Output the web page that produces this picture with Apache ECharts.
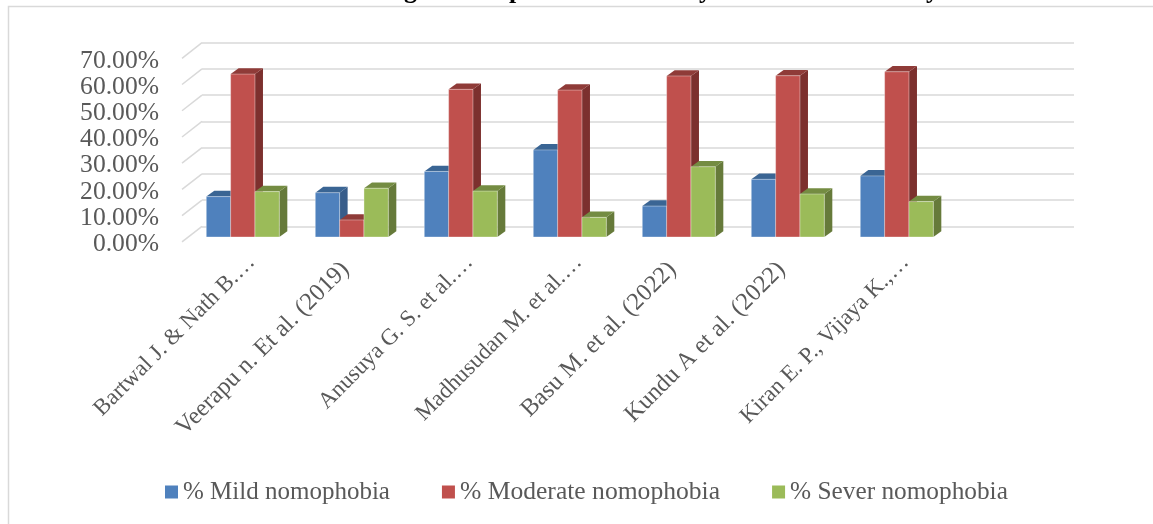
<!DOCTYPE html>
<html><head><meta charset="utf-8">
<style>html,body{margin:0;padding:0;background:#fff}#c{width:1153px;height:524px}</style>
<script src="https://cdn.jsdelivr.net/npm/echarts@6/dist/echarts.min.js"></script></head>
<body><div id="c"></div>
<script>
const categories = ["Bartwal J. & Nath B. (2019)","Veerapu n. Et al. (2019)","Anusuya G. S. et al. (2020)","Madhusudan M. et al. (2021)","Basu M. et al. (2022)","Kundu A et al. (2022)","Kiran E. P., Vijaya K., (2022)",""];
const shownLabels = ["Bartwal J. & Nath B.…","Veerapu n. Et al. (2019)","Anusuya G. S. et al.…","Madhusudan M. et al.…","Basu M. et al. (2022)","Kundu A et al. (2022)","Kiran E. P., Vijaya K.,…",""];
const mild = [15.4,16.9,25.0,33.2,11.8,22.0,23.3];
const moderate = [62.1,6.5,56.3,56.0,61.4,61.5,63.0];
const severe = [17.3,18.6,17.5,7.5,26.8,16.4,13.5];
const ticks = [0,10,20,30,40,50,60,70];
const titleGlyphs = [["g",404],["p",509],["y",699],["y",926]];

const DX=20, DY=15.6, BAR_DX=6.3, BAR_DY=4.9, SIDE_X=8, SIDE_Y=5.8, GROUP=0.67;
const FONT='"Liberation Serif"', GREY='#595959';

function barSeries(name,data,idx,front,side,top){
  return {name,type:'custom',xAxisIndex:0,yAxisIndex:0,coordinateSystem:'cartesian2d',z:3+idx,
    itemStyle:{color:front},
    encode:{x:0,y:1},
    data:data.map((v,i)=>[i,v]),
    renderItem(params,api){
      const base=api.coord([api.value(0),0]), t=api.coord([api.value(0),api.value(1)]);
      const band=api.size([1,0])[0], w=band*GROUP/3;
      const x=base[0]-band*GROUP/2+idx*w+BAR_DX, y0=base[1]-BAR_DY, y1=t[1]-BAR_DY;
      const edge='rgba(255,255,255,0.35)';
      return {type:'group',children:[
        {type:'polygon',shape:{points:[[x+w,y0],[x+w+SIDE_X,y0-SIDE_Y],[x+w+SIDE_X,y1-SIDE_Y],[x+w,y1]]},style:{fill:side}},
        {type:'polygon',shape:{points:[[x,y1],[x+SIDE_X,y1-SIDE_Y],[x+w+SIDE_X,y1-SIDE_Y],[x+w,y1]]},style:{fill:top}},
        {type:'rect',shape:{x,y:y1,width:w,height:y0-y1},style:{fill:front,stroke:edge,lineWidth:1}}
      ]};
    }};
}
const chart=echarts.init(document.getElementById('c'),null,{renderer:'canvas'});
chart.setOption({
  animation:false,
  textStyle:{fontFamily:FONT},
  graphic:[
    {type:'rect',silent:true,z:0,shape:{x:8.5,y:6.5,width:1170,height:540},style:{fill:'none',stroke:'#d9d9d9',lineWidth:1.5}},
    ...titleGlyphs.map(g=>({type:'text',silent:true,z:0,x:g[1],y:-22,style:{text:g[0],font:'bold 26px "Liberation Serif"',fill:'#000'}}))
  ],
  legend:{left:160,top:474,icon:'rect',itemWidth:13,itemHeight:13,itemGap:52,
    data:[
      {name:'% Mild nomophobia'},
      {name:'% Moderate nomophobia',textStyle:{fontSize:25.6}},
      {name:'% Sever nomophobia',textStyle:{fontSize:25.3}}
    ],
    textStyle:{fontFamily:FONT,fontSize:25,color:GREY,padding:[0,0,0,0]}},
  grid:[
    {left:182,right:99,top:58.3,bottom:282.1},
    {left:202,right:79,top:42.7,bottom:297.7},
    {left:193,right:88,top:60.8,bottom:279.6}
  ],
  xAxis:[
    {type:'category',gridIndex:0,data:categories,axisLine:{show:false},axisTick:{show:false},axisLabel:{show:false}},
    {type:'category',gridIndex:1,data:categories,axisLine:{show:false},axisTick:{show:false},axisLabel:{show:false}},
    {type:'category',gridIndex:2,data:categories,axisLine:{show:false},axisTick:{show:false},
     axisLabel:{interval:0,rotate:45,margin:10.5,fontFamily:FONT,fontSize:24,color:GREY,
       formatter:(v,i)=>shownLabels[i]?(shownLabels[i].endsWith('…')?'{e|'+shownLabels[i]+'}':'{p|'+shownLabels[i]+'}'):'',
       rich:{
         e:{fontFamily:FONT,fontSize:23,color:GREY,padding:[11,0,0,0]},
         p:{fontFamily:FONT,fontSize:24.5,color:GREY,padding:[0,15.6,0,0]}
       }}}
  ],
  yAxis:[
    {type:'value',gridIndex:0,min:0,max:70,interval:10,axisLine:{show:false},axisTick:{show:false},splitLine:{show:false},axisLabel:{show:false}},
    {type:'value',gridIndex:1,min:0,max:70,interval:10,axisLine:{show:false},axisTick:{show:false},
     axisLabel:{show:false},splitLine:{lineStyle:{color:'#d9d9d9',width:1.5}}},
    {type:'value',gridIndex:2,min:0,max:70,interval:10,axisLine:{show:false},axisTick:{show:false},splitLine:{show:false},
     axisLabel:{margin:34,fontFamily:FONT,fontSize:25.6,color:GREY,formatter:v=>v.toFixed(2)+'%'}}
  ],
  series:[
    {type:'custom',xAxisIndex:0,yAxisIndex:0,z:1,silent:true,data:ticks.map(t=>[0,t]),encode:{x:0,y:1},
     renderItem(params,api){
       const band=api.size([1,0])[0];
       const p=api.coord([0,api.value(1)]);
       const x=p[0]-band/2;
       return {type:'line',shape:{x1:x,y1:p[1],x2:x+DX,y2:p[1]-DY},style:{stroke:'#d9d9d9',lineWidth:1.5}};
     }},
    barSeries('% Mild nomophobia',mild,0,'#4F81BD','#385D8A','#3A6594'),
    barSeries('% Moderate nomophobia',moderate,1,'#C0504D','#7C302E','#8F3B38'),
    barSeries('% Sever nomophobia',severe,2,'#9BBB59','#667A3A','#748C42')
  ]
});
</script></body></html>
